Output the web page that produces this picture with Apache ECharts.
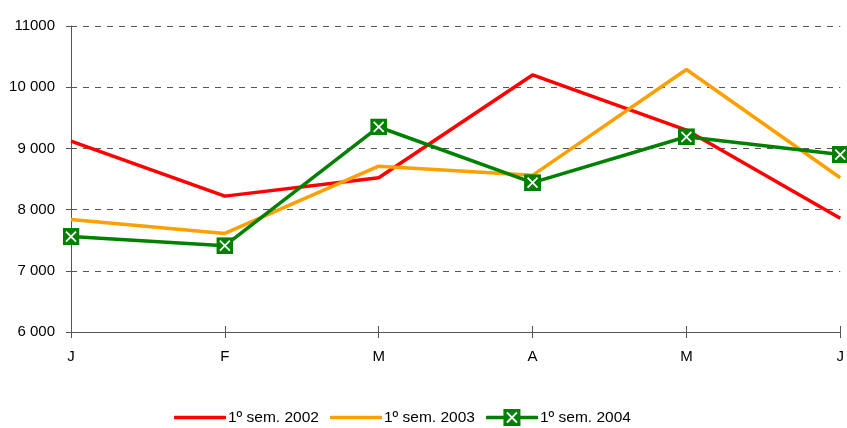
<!DOCTYPE html>
<html>
<head>
<meta charset="utf-8">
<script src="https://cdn.jsdelivr.net/npm/echarts@6/dist/echarts.min.js"></script>
<style>html,body{margin:0;padding:0;background:#fff}#c{width:847px;height:428px}</style>
</head>
<body>
<div id="c"></div>
<script>
const categories = ['J', 'F', 'M', 'A', 'M', 'J'];
const sem2002 = [9120, 8220, 8520, 10200, 9300, 7860];
const sem2003 = [7840, 7610, 8710, 8560, 10290, 8520];
const sem2004 = [7560, 7410, 9350, 8440, 9190, 8900];
const seriesNames = ['1º sem. 2002', '1º sem. 2003', '1º sem. 2004'];
const yTickLabels = {6000: '6 000', 7000: '7 000', 8000: '8 000', 9000: '9 000', 10000: '10 000', 11000: '11000'};

function svgUri(svg) { return 'image://data:image/svg+xml;charset=utf-8,' + encodeURIComponent(svg); }
const markerSvg = '<svg xmlns="http://www.w3.org/2000/svg" width="17" height="17" viewBox="0 0 17 17"><rect width="17" height="17" fill="#008000"/><path d="M3.5 3.5L13.5 13.5M13.5 3.5L3.5 13.5" stroke="#fff" stroke-width="1.8"/></svg>';
function lineIcon(color, withMarker) {
  let s = '<svg xmlns="http://www.w3.org/2000/svg" width="52" height="17" viewBox="0 0 52 17"><path d="M1 8.5H51" stroke="' + color + '" stroke-width="3.5" stroke-linecap="round"/>';
  if (withMarker) s += '<rect x="17.5" y="0" width="17" height="17" fill="#008000"/><path d="M21 3.5L31 13.5M31 3.5L21 13.5" stroke="#fff" stroke-width="1.8"/>';
  return svgUri(s + '</svg>');
}

const chart = echarts.init(document.getElementById('c'), null, {renderer: 'canvas'});
const font = 'Liberation Sans, Arial, sans-serif';
chart.setOption({
  animation: false,
  grid: {left: 71, right: 4, top: 26, bottom: 96},
  legend: {
    bottom: 2,
    left: 174,
    padding: 0,
    itemWidth: 52,
    itemHeight: 17,
    itemGap: 11,
    textStyle: {fontFamily: font, fontSize: 15.5, color: '#000', padding: [0, 0, 0, -3]},
    data: [
      {name: seriesNames[0], icon: lineIcon('#ff0000', false)},
      {name: seriesNames[1], icon: lineIcon('#ffa000', false)},
      {name: seriesNames[2], icon: lineIcon('#008000', true)}
    ]
  },
  xAxis: [{
    type: 'category',
    data: categories,
    boundaryGap: false,
    axisLine: {lineStyle: {color: '#555', width: 1}},
    axisTick: {show: true, length: 6, lineStyle: {color: '#555'}, alignWithLabel: true},
    axisLabel: {fontFamily: font, fontSize: 15, color: '#000', margin: 17}
  }, {
    type: 'category',
    data: categories,
    boundaryGap: false,
    position: 'bottom',
    axisLine: {show: false},
    axisTick: {show: true, inside: true, length: 6, lineStyle: {color: '#555'}},
    axisLabel: {show: false}
  }],
  yAxis: {
    type: 'value',
    min: 6000,
    max: 11000,
    interval: 1000,
    axisLine: {show: true, lineStyle: {color: '#555', width: 1}},
    axisTick: {show: true, length: 5, lineStyle: {color: '#555'}},
    axisLabel: {fontFamily: font, fontSize: 15, color: '#000', margin: 16,
      formatter: v => yTickLabels[v] || String(v)},
    splitLine: {show: true, lineStyle: {color: '#555', type: [6, 6], width: 1}}
  },
  series: [
    {name: seriesNames[0], type: 'line', data: sem2002, symbol: 'none', lineStyle: {color: '#ff0000', width: 3.5}, itemStyle: {color: '#ff0000'}, z: 2},
    {name: seriesNames[1], type: 'line', data: sem2003, symbol: 'none', lineStyle: {color: '#ffa000', width: 3.5}, itemStyle: {color: '#ffa000'}, z: 3},
    {name: seriesNames[2], type: 'line', data: sem2004, symbol: svgUri(markerSvg), symbolSize: 17, lineStyle: {color: '#008000', width: 3.5}, itemStyle: {color: '#008000'}, z: 4}
  ]
});
</script>
</body>
</html>
